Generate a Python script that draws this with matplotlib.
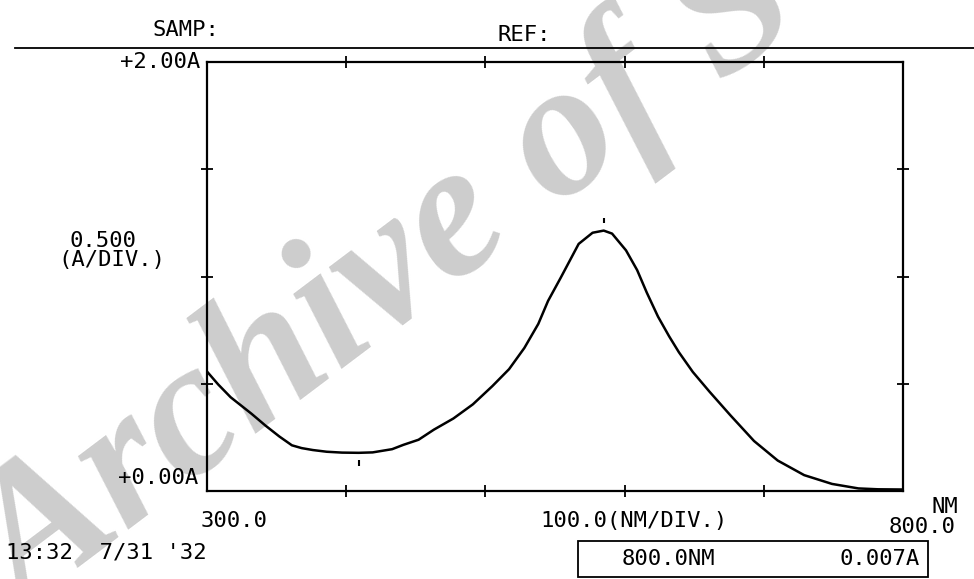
import numpy as np
import matplotlib
matplotlib.use('Agg')
import matplotlib.pyplot as plt
from matplotlib.lines import Line2D
from matplotlib.patches import Rectangle

# spectrum (nm, absorbance)
wavelength = [300, 308, 317, 332, 342, 352, 361, 368, 376, 386, 397, 409, 419,
              433, 441, 452, 463, 477, 491, 505, 517, 528, 538, 545, 554, 567,
              577, 585, 591, 601, 609, 616, 624, 632, 639, 649, 661, 676, 693,
              710, 729, 749, 768, 782, 800]
absorbance = [0.557, 0.497, 0.437, 0.360, 0.305, 0.254, 0.213, 0.200, 0.191,
              0.183, 0.179, 0.178, 0.180, 0.195, 0.215, 0.239, 0.286, 0.338,
              0.404, 0.489, 0.568, 0.667, 0.779, 0.886, 0.993, 1.152, 1.204,
              1.214, 1.200, 1.122, 1.030, 0.924, 0.813, 0.721, 0.647, 0.555,
              0.463, 0.353, 0.233, 0.142, 0.074, 0.033, 0.012, 0.008, 0.007]
peak_nm = [585]
valley_nm = [409]

x_ticks = [400, 500, 600, 700]
y_ticks = [0.5, 1.0, 1.5]

W, H = 974, 579
mono = 'DejaVu Sans Mono'
fs = 16

def fx(x):
  return x/W

def fy(y):
  return 1. - y/H

fig = plt.figure(figsize = (W/100., H/100.), dpi = 100)
fig.patch.set_facecolor('white')

# watermark behind everything
fig.text(fx(26), fy(614), 'Archive of S', rotation = 37, rotation_mode = 'anchor',
  ha = 'left', va = 'baseline', fontsize = 138, family = 'Liberation Serif',
  style = 'italic', weight = 'bold', color = '#cdcdcd', zorder = -5)

ax = fig.add_axes([fx(207), fy(491), fx(903) - fx(207), fy(62) - fy(491)])
ax.patch.set_alpha(0)
ax.plot(wavelength, absorbance, color = 'k', lw = 1.8, zorder = 3,
  solid_joinstyle = 'round')

# peak / valley marks
a_pk = np.interp(peak_nm, wavelength, absorbance)
a_vl = np.interp(valley_nm, wavelength, absorbance)
ax.vlines(peak_nm, a_pk + 0.035, a_pk + 0.06, color = 'k', lw = 1.5)
ax.vlines(valley_nm, a_vl - 0.06, a_vl - 0.035, color = 'k', lw = 1.5)

ax.set_xlim(300, 800)
ax.set_ylim(0, 2.0)
ax.set_xticks(x_ticks)
ax.set_yticks(y_ticks)
ax.tick_params(direction = 'inout', length = 8, width = 1.3,
  top = True, right = True, labelbottom = False, labelleft = False)
for s in ax.spines.values():
  s.set_linewidth(1.6)

# header
fig.text(fx(186), fy(30), 'SAMP:', ha = 'center', va = 'center', family = mono, fontsize = fs)
fig.text(fx(524), fy(35), 'REF:', ha = 'center', va = 'center', family = mono, fontsize = fs)
fig.add_artist(Line2D([fx(15), fx(974)], [fy(48), fy(48)], color = 'k', lw = 1.3))

# axis labels
fig.text(fx(200), fy(62), '+2.00A', ha = 'right', va = 'center', family = mono, fontsize = fs)
fig.text(fx(198), fy(478), '+0.00A', ha = 'right', va = 'center', family = mono, fontsize = fs)
fig.text(fx(103), fy(241), '0.500', ha = 'center', va = 'center', family = mono, fontsize = fs)
fig.text(fx(112), fy(260), '(A/DIV.)', ha = 'center', va = 'center', family = mono, fontsize = fs)
fig.text(fx(234), fy(521), '300.0', ha = 'center', va = 'center', family = mono, fontsize = fs)
fig.text(fx(634), fy(521), '100.0(NM/DIV.)', ha = 'center', va = 'center', family = mono, fontsize = fs)
fig.text(fx(956), fy(527), '800.0', ha = 'right', va = 'center', family = mono, fontsize = fs)
fig.text(fx(958), fy(507), 'NM', ha = 'right', va = 'center', family = mono, fontsize = fs)

# footer
fig.text(fx(6), fy(553), "13:32  7/31 '32", ha = 'left', va = 'center', family = mono, fontsize = fs)
fig.add_artist(Rectangle((fx(578), fy(577)), fx(928) - fx(578), fy(541) - fy(577),
  fill = False, ec = 'k', lw = 1.3, transform = fig.transFigure))
fig.text(fx(668), fy(559), '800.0NM', ha = 'center', va = 'center', family = mono, fontsize = fs)
fig.text(fx(920), fy(559), '0.007A', ha = 'right', va = 'center', family = mono, fontsize = fs)

fig.savefig('out.png', dpi = 100)
